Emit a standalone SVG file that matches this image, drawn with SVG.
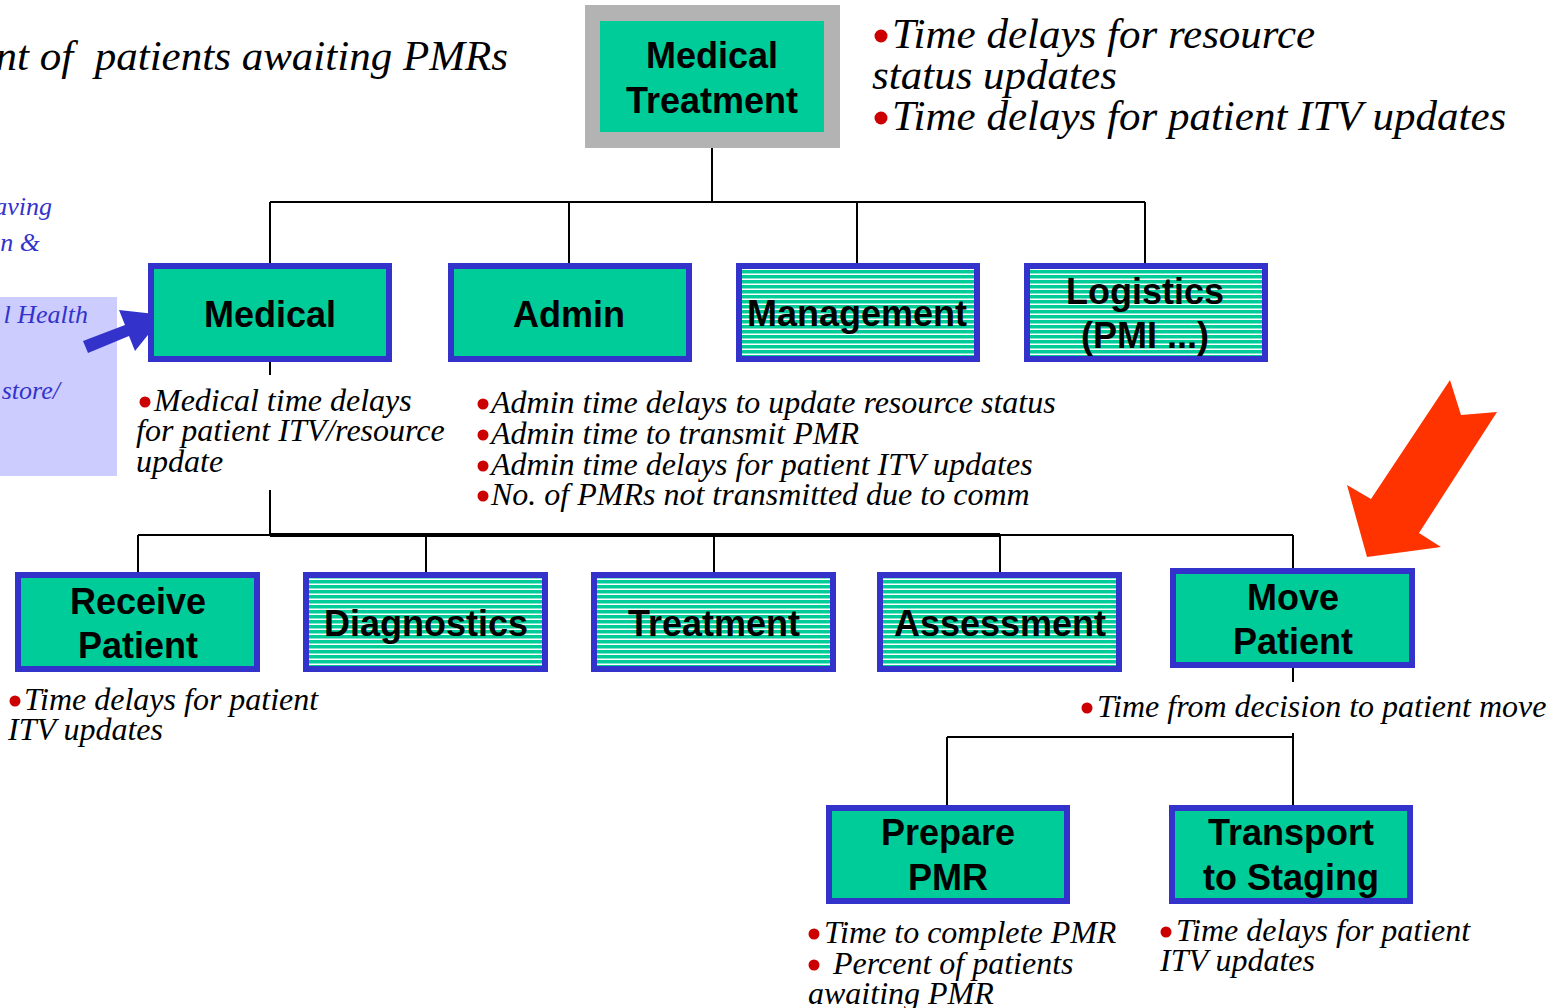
<svg xmlns="http://www.w3.org/2000/svg" width="1567" height="1008" viewBox="0 0 1567 1008">
<style>
.box{fill:#00CC99;stroke:#3333CC;stroke-width:6}
.striped{fill:url(#stripes);stroke:#3333CC;stroke-width:6}
.lbl{font-family:"Liberation Sans",Arial,sans-serif;font-weight:bold;font-size:36px;fill:#000;text-anchor:middle}
.note{font-family:"Liberation Serif","Times New Roman",serif;font-style:italic;font-size:32px;fill:#000}
.big{font-size:43px}
.side{font-family:"Liberation Serif","Times New Roman",serif;font-style:italic;font-size:26px;fill:#3333CC;text-anchor:end}
.dot{fill:#CC0000}
.con{stroke:#000;stroke-width:2;fill:none}
</style>
<defs>
<pattern id="stripes" patternUnits="userSpaceOnUse" width="10" height="5">
<rect width="10" height="5" fill="#00CC99"/>
<rect y="3.5" width="10" height="1.5" fill="#FFFFFF"/>
</pattern>
</defs>
<rect width="1567" height="1008" fill="#FFFFFF"/>

<!-- side decorations -->
<rect x="0" y="297" width="117" height="179" fill="#CCCCFF"/>
<text class="side" x="52" y="215">aving</text>
<text class="side" x="40" y="251">n &amp;</text>
<text class="side" x="88" y="323">l Health</text>
<text class="side" x="60" y="399">store/</text>
<polygon points="83,341 125,325 119,310 164,315 135,351 129,336 88,353" fill="#3333CC"/>
<polygon points="1450,380 1461,415 1497,412 1419,533 1441,547 1367,557 1347,485 1371,499" fill="#FF3300"/>

<!-- connectors -->
<g id="connectors">
<path class="con" d="M712,148 V202 M270,202 H1145 M270,202 V263 M569,202 V263 M857,202 V263 M1145,202 V263"/>
<path class="con" d="M270,362 V375 M270,490 V535 M138,535 H1293 M138,535 V572 M426,535 V572 M714,535 V572 M1000,535 V572 M1293,535 V568"/>
<path d="M270,535 H1000" stroke="#000" stroke-width="4" fill="none"/>
<path class="con" d="M1293,668 V682 M1293,733 V805 M947,737 H1293 M947,737 V805"/>
</g>

<!-- nodes -->
<g id="medical-treatment">
<rect x="585" y="5" width="255" height="143" fill="#B3B3B3"/>
<rect x="600" y="21" width="224" height="111" fill="#00CC99"/>
<text class="lbl" x="712" y="68">Medical</text>
<text class="lbl" x="712" y="113">Treatment</text>
</g>
<g id="medical">
<rect class="box" x="151" y="266" width="238" height="93"/>
<text class="lbl" x="270" y="327">Medical</text>
</g>
<g id="admin">
<rect class="box" x="451" y="266" width="238" height="93"/>
<text class="lbl" x="569" y="327">Admin</text>
</g>
<g id="management">
<rect class="striped" x="739" y="266" width="238" height="93"/>
<text class="lbl" x="857" y="326">Management</text>
</g>
<g id="logistics">
<rect class="striped" x="1027" y="266" width="238" height="93"/>
<text class="lbl" x="1145" y="304">Logistics</text>
<text class="lbl" x="1145" y="348">(PMI ...)</text>
</g>
<g id="receive-patient">
<rect class="box" x="18" y="575" width="239" height="94"/>
<text class="lbl" x="138" y="614">Receive</text>
<text class="lbl" x="138" y="658">Patient</text>
</g>
<g id="diagnostics">
<rect class="striped" x="306" y="575" width="239" height="94"/>
<text class="lbl" x="426" y="636">Diagnostics</text>
</g>
<g id="treatment">
<rect class="striped" x="594" y="575" width="239" height="94"/>
<text class="lbl" x="714" y="636">Treatment</text>
</g>
<g id="assessment">
<rect class="striped" x="880" y="575" width="239" height="94"/>
<text class="lbl" x="1000" y="636">Assessment</text>
</g>
<g id="move-patient">
<rect class="box" x="1173" y="571" width="239" height="94"/>
<text class="lbl" x="1293" y="610">Move</text>
<text class="lbl" x="1293" y="654">Patient</text>
</g>
<g id="prepare-pmr">
<rect class="box" x="829" y="808" width="238" height="93"/>
<text class="lbl" x="948" y="845">Prepare</text>
<text class="lbl" x="948" y="890">PMR</text>
</g>
<g id="transport-to-staging">
<rect class="box" x="1172" y="808" width="238" height="93"/>
<text class="lbl" x="1291" y="845">Transport</text>
<text class="lbl" x="1291" y="890">to Staging</text>
</g>

<!-- bullets -->
<g id="bullets" class="dot">
<circle cx="881" cy="36" r="6.5"/>
<circle cx="881" cy="118" r="6.5"/>
<circle cx="145" cy="402" r="5.5"/>
<circle cx="483" cy="404" r="5.5"/>
<circle cx="483" cy="435" r="5.5"/>
<circle cx="483" cy="466" r="5.5"/>
<circle cx="483" cy="496" r="5.5"/>
<circle cx="15" cy="701" r="5.5"/>
<circle cx="1087" cy="708" r="5.5"/>
<circle cx="814" cy="934" r="5.5"/>
<circle cx="814" cy="965" r="5.5"/>
<circle cx="1166" cy="932" r="5.5"/>
</g>

<!-- notes -->
<text class="note big" x="508" y="70" text-anchor="end" xml:space="preserve">nt of  patients awaiting PMRs</text>
<text class="note big" x="892" y="48">Time delays for resource</text>
<text class="note big" x="872" y="89">status updates</text>
<text class="note big" x="892" y="130">Time delays for patient ITV updates</text>

<text class="note" x="154" y="411">Medical time delays</text>
<text class="note" x="136" y="441">for patient ITV/resource</text>
<text class="note" x="136" y="472">update</text>

<text class="note" x="491" y="413">Admin time delays to update resource status</text>
<text class="note" x="491" y="444">Admin time to transmit PMR</text>
<text class="note" x="491" y="475">Admin time delays for patient ITV updates</text>
<text class="note" x="491" y="505">No. of PMRs not transmitted due to comm</text>

<text class="note" x="24" y="710">Time delays for patient</text>
<text class="note" x="8" y="740">ITV updates</text>

<text class="note" x="1097" y="717">Time from decision to patient move</text>

<text class="note" x="824" y="943">Time to complete PMR</text>
<text class="note" x="833" y="974">Percent of patients</text>
<text class="note" x="808" y="1004">awaiting PMR</text>

<text class="note" x="1176" y="941">Time delays for patient</text>
<text class="note" x="1160" y="971">ITV updates</text>
</svg>
